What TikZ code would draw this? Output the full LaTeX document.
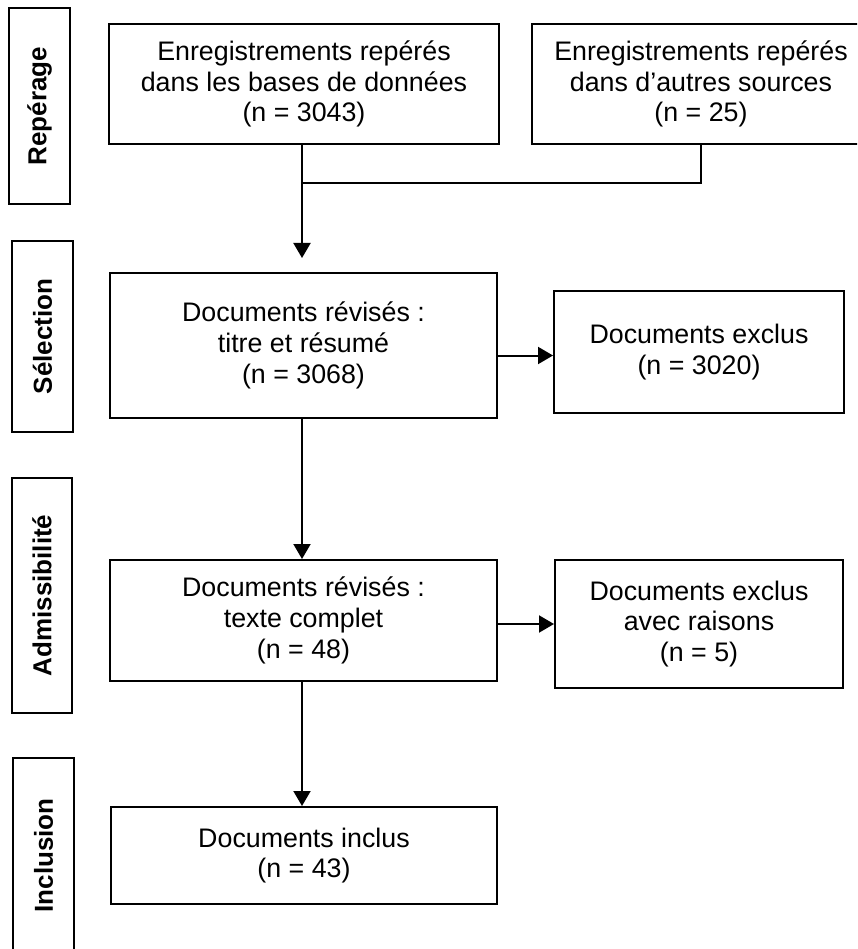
\documentclass[tikz,border=0pt]{standalone}
\usepackage{fontspec}
\setmainfont{Liberation Sans}
\usetikzlibrary{arrows.meta}
\begin{document}
\begin{tikzpicture}[x=1pt,y=-1pt,
  box/.style={draw, line width=2pt, align=center, inner sep=0pt,
    font=\fontsize{26.8}{30.8}\selectfont},
  stage/.style={draw, line width=2pt, inner sep=0pt, rotate=90,
    font=\bfseries\fontsize{26}{30}\selectfont},
  arr/.style={line width=2pt, -{Triangle[width=17pt,length=15pt]}},
  ln/.style={line width=2pt}]
\clip (0,0) rectangle (857,949);
% stage labels
\node[stage, minimum width=196pt, minimum height=61pt] (s1) at (39.5,106) {Repérage};
\node[stage, minimum width=191pt, minimum height=61pt] (s2) at (42.5,336.5) {Sélection};
\node[stage, minimum width=235pt, minimum height=60pt] (s3) at (42,595.5) {Admissibilité};
\node[stage, minimum width=195pt, minimum height=61pt] (s4) at (43.5,855.5) {Inclusion};
% boxes
\node[box, minimum width=390pt, minimum height=120pt] (b1) at (304,84)
  {Enregistrements repérés\\dans les bases de données\\(n = 3043)};
\node[box, minimum width=338pt, minimum height=120pt] (b2) at (701,84)
  {Enregistrements repérés\\dans d’autres sources\\(n = 25)};
\node[box, minimum width=387pt, minimum height=145pt] (b3) at (303.5,345.5)
  {Documents révisés :\\titre et résumé\\(n = 3068)};
\node[box, minimum width=290pt, minimum height=122pt] (b4) at (699,352)
  {Documents exclus\\(n = 3020)};
\node[box, minimum width=387pt, minimum height=121pt] (b5) at (303.5,620.5)
  {Documents révisés :\\texte complet\\(n = 48)};
\node[box, minimum width=288pt, minimum height=128pt] (b6) at (699,624)
  {Documents exclus\\avec raisons\\(n = 5)};
\node[box, minimum width=386pt, minimum height=97pt] (b7) at (304,855.5)
  {Documents inclus\\(n = 43)};
% connectors
\coordinate (j) at (302,183);
\coordinate (t3) at (302,258);
\draw[ln] (b2.south) |- (j);
\draw[arr] (b1.south -| j) -- (t3);
\draw[arr] (b3.south -| j) -- (b5.north -| j);
\draw[arr] (b5.south -| j) -- (b7.north -| j);
\draw[arr] ([yshift=-10pt]b3.east) -- ([yshift=-10pt]b3.east -| b4.west);
\draw[arr] (b5.east |- b6.west) -- (b6.west);
\end{tikzpicture}
\end{document}
